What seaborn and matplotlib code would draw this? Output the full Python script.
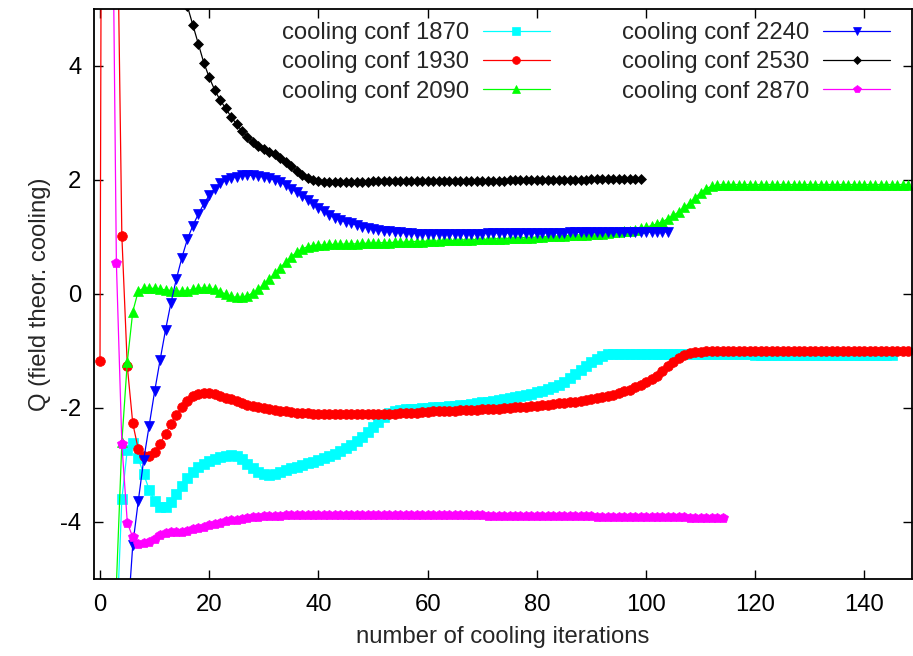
import matplotlib
matplotlib.use("Agg")
import matplotlib.pyplot as plt
import numpy as np
import seaborn as sns

# values, one value per cooling iteration
start_1870 = 3
q_1870 = [-6.0, -3.6, -2.73, -2.62, -2.88, -3.16, -3.43, -3.63, -3.74, -3.74,
          -3.65, -3.51, -3.37, -3.22, -3.12, -3.04, -2.98, -2.93, -2.89, -2.86,
          -2.84, -2.83, -2.85, -2.9, -2.98, -3.06, -3.12, -3.16, -3.17, -3.15,
          -3.12, -3.09, -3.06, -3.03, -3.0, -2.97, -2.94, -2.91, -2.88, -2.84,
          -2.8, -2.76, -2.71, -2.65, -2.58, -2.5, -2.42, -2.34, -2.25, -2.16,
          -2.09, -2.05, -2.03, -2.02, -2.01, -2.01, -2.0, -2.0, -1.99, -1.98,
          -1.98, -1.97, -1.96, -1.95, -1.94, -1.93, -1.91, -1.9, -1.89, -1.87,
          -1.86, -1.84, -1.83, -1.81, -1.79, -1.77, -1.75, -1.72, -1.7, -1.67,
          -1.64, -1.6, -1.55, -1.48, -1.41, -1.34, -1.27, -1.2, -1.14, -1.09,
          -1.06, -1.05, -1.05, -1.05, -1.06, -1.06, -1.06, -1.06, -1.06, -1.06,
          -1.06, -1.06, -1.06, -1.06, -1.06, -1.06, -1.06, -1.06, -1.06, -1.06,
          -1.06, -1.06, -1.06, -1.06, -1.06, -1.06, -1.06, -1.07, -1.07, -1.07,
          -1.07, -1.07, -1.07, -1.07, -1.07, -1.07, -1.07, -1.07, -1.07, -1.07,
          -1.07, -1.07, -1.07, -1.07, -1.07, -1.07, -1.07, -1.07, -1.07, -1.07,
          -1.07, -1.07, -1.07]

start_1930 = 0
q_1930 = [-1.17, 33.0, 25.0, 8.0, 1.02, -1.27, -2.27, -2.72, -2.85, -2.84,
          -2.78, -2.63, -2.45, -2.28, -2.12, -1.98, -1.87, -1.79, -1.75, -1.73,
          -1.74, -1.76, -1.79, -1.82, -1.85, -1.88, -1.91, -1.94, -1.96, -1.98,
          -2.0, -2.02, -2.03, -2.05, -2.06, -2.07, -2.08, -2.09, -2.09, -2.1,
          -2.1, -2.11, -2.11, -2.11, -2.11, -2.11, -2.11, -2.11, -2.11, -2.11,
          -2.11, -2.11, -2.11, -2.1, -2.1, -2.09, -2.09, -2.08, -2.08, -2.07,
          -2.07, -2.06, -2.06, -2.05, -2.05, -2.05, -2.04, -2.04, -2.03, -2.03,
          -2.02, -2.02, -2.01, -2.01, -2.0, -2.0, -1.99, -1.98, -1.98, -1.97,
          -1.96, -1.95, -1.94, -1.93, -1.92, -1.91, -1.9, -1.89, -1.88, -1.86,
          -1.85, -1.83, -1.81, -1.79, -1.77, -1.74, -1.71, -1.68, -1.64, -1.6,
          -1.55, -1.49, -1.43, -1.35, -1.26, -1.19, -1.12, -1.07, -1.04, -1.02,
          -1.01, -1.0, -1.0, -1.0, -1.0, -1.0, -1.0, -1.0, -1.0, -1.0,
          -1.0, -1.0, -1.0, -1.0, -1.0, -1.0, -1.0, -1.0, -1.0, -1.0,
          -1.0, -1.0, -1.0, -1.0, -1.0, -1.0, -1.0, -1.0, -1.0, -1.0,
          -1.0, -1.0, -1.0, -1.0, -1.0, -1.0, -1.0, -1.0, -1.0]

start_2090 = 1
q_2090 = [-20.0, -12.0, -5.1, -2.6, -1.19, -0.31, 0.05, 0.1, 0.1, 0.1,
          0.09, 0.07, 0.06, 0.05, 0.05, 0.06, 0.08, 0.1, 0.11, 0.1,
          0.08, 0.04, 0.0, -0.04, -0.06, -0.06, -0.03, 0.02, 0.08, 0.17,
          0.26, 0.36, 0.46, 0.56, 0.65, 0.73, 0.79, 0.83, 0.85, 0.86,
          0.86, 0.87, 0.87, 0.87, 0.88, 0.88, 0.88, 0.89, 0.89, 0.89,
          0.9, 0.9, 0.9, 0.91, 0.91, 0.91, 0.92, 0.92, 0.92, 0.93,
          0.93, 0.93, 0.94, 0.94, 0.94, 0.95, 0.95, 0.95, 0.96, 0.96,
          0.96, 0.97, 0.97, 0.97, 0.98, 0.98, 0.99, 0.99, 0.99, 1.0,
          1.0, 1.01, 1.01, 1.02, 1.02, 1.03, 1.03, 1.04, 1.04, 1.05,
          1.06, 1.06, 1.07, 1.08, 1.09, 1.1, 1.11, 1.13, 1.15, 1.17,
          1.2, 1.23, 1.27, 1.32, 1.38, 1.44, 1.52, 1.6, 1.69, 1.78,
          1.85, 1.89, 1.91, 1.92, 1.92, 1.92, 1.92, 1.92, 1.92, 1.92,
          1.92, 1.92, 1.92, 1.92, 1.92, 1.92, 1.92, 1.92, 1.92, 1.92,
          1.92, 1.92, 1.92, 1.92, 1.92, 1.92, 1.92, 1.92, 1.92, 1.92,
          1.92, 1.92, 1.92, 1.92, 1.92, 1.92, 1.92, 1.92]

start_2240 = 4
q_2240 = [-9.0, -5.8, -4.4, -3.64, -2.91, -2.31, -1.71, -1.16, -0.63, -0.15,
          0.27, 0.64, 0.96, 1.2, 1.4, 1.58, 1.73, 1.85, 1.94, 2.0,
          2.04, 2.06, 2.08, 2.08, 2.08, 2.07, 2.05, 2.03, 2.0, 1.96,
          1.91, 1.85, 1.79, 1.72, 1.65, 1.58, 1.51, 1.45, 1.39, 1.34,
          1.3, 1.26, 1.24, 1.21, 1.18, 1.16, 1.14, 1.12, 1.11, 1.1,
          1.09, 1.08, 1.07, 1.07, 1.06, 1.06, 1.06, 1.06, 1.06, 1.06,
          1.06, 1.06, 1.06, 1.06, 1.06, 1.06, 1.06, 1.07, 1.07, 1.07,
          1.07, 1.07, 1.07, 1.07, 1.07, 1.07, 1.07, 1.07, 1.07, 1.07,
          1.07, 1.07, 1.08, 1.08, 1.08, 1.08, 1.08, 1.08, 1.08, 1.08,
          1.08, 1.08, 1.08, 1.08, 1.09, 1.09, 1.09, 1.09, 1.09, 1.09,
          1.09]

start_2530 = 12
q_2530 = [6.6, 6.2, 5.8, 5.42, 5.05, 4.72, 4.39, 4.06, 3.8, 3.58,
          3.4, 3.26, 3.11, 2.98, 2.86, 2.76, 2.67, 2.6, 2.55, 2.5,
          2.45, 2.39, 2.32, 2.24, 2.16, 2.09, 2.03, 2.0, 1.98, 1.97,
          1.97, 1.97, 1.97, 1.97, 1.97, 1.97, 1.97, 1.97, 1.98, 1.98,
          1.98, 1.98, 1.98, 1.98, 1.98, 1.98, 1.98, 1.98, 1.99, 1.99,
          1.99, 1.99, 1.99, 1.99, 1.99, 1.99, 1.99, 1.99, 1.99, 1.99,
          1.99, 1.99, 1.99, 2.0, 2.0, 2.0, 2.0, 2.0, 2.0, 2.0,
          2.0, 2.0, 2.0, 2.0, 2.0, 2.0, 2.0, 2.0, 2.01, 2.01,
          2.01, 2.01, 2.01, 2.01, 2.01, 2.01, 2.01, 2.02]

start_2870 = 1
q_2870 = [30.0, 10.0, 0.54, -2.63, -4.01, -4.27, -4.38, -4.37, -4.35, -4.29,
          -4.23, -4.19, -4.18, -4.17, -4.17, -4.15, -4.13, -4.1, -4.08, -4.05,
          -4.03, -4.01, -3.99, -3.97, -3.96, -3.94, -3.93, -3.92, -3.91, -3.9,
          -3.9, -3.89, -3.89, -3.88, -3.88, -3.88, -3.87, -3.87, -3.87, -3.87,
          -3.87, -3.87, -3.87, -3.87, -3.87, -3.87, -3.87, -3.87, -3.87, -3.87,
          -3.87, -3.87, -3.87, -3.87, -3.87, -3.87, -3.87, -3.87, -3.87, -3.87,
          -3.88, -3.88, -3.88, -3.88, -3.88, -3.88, -3.88, -3.88, -3.88, -3.88,
          -3.89, -3.89, -3.89, -3.89, -3.89, -3.89, -3.89, -3.89, -3.89, -3.89,
          -3.9, -3.9, -3.9, -3.9, -3.9, -3.9, -3.9, -3.9, -3.9, -3.9,
          -3.91, -3.91, -3.91, -3.91, -3.91, -3.91, -3.91, -3.91, -3.91, -3.91,
          -3.92, -3.92, -3.92, -3.92, -3.92, -3.92, -3.92, -3.93, -3.93, -3.93,
          -3.93, -3.93, -3.93, -3.93]

series = [
    ("cooling conf 1870", start_1870, q_1870, "#00ffff", "s", 7.0),
    ("cooling conf 1930", start_1930, q_1930, "#ff0000", "o", 7.0),
    ("cooling conf 2090", start_2090, q_2090, "#00ff00", "^", 7.0),
    ("cooling conf 2240", start_2240, q_2240, "#0000ff", "v", 7.0),
    ("cooling conf 2530", start_2530, q_2530, "#000000", "D", 5.0),
    ("cooling conf 2870", start_2870, q_2870, "#ff00ff", "p", 7.5),
]

sns.set_style("ticks")
plt.rcParams["font.family"] = ["Liberation Sans", "DejaVu Sans"]
plt.rcParams["font.size"] = 17.2
plt.rcParams["axes.unicode_minus"] = False

fig = plt.figure(figsize=(9.13, 6.56), dpi=100)
ax = fig.add_axes([94 / 913, 1 - 579 / 656, 818 / 913, 570 / 656])

for label, start, q, color, mk, ms in series:
    it = np.arange(start, start + len(q))
    sns.lineplot(x=it, y=q, ax=ax, color=color, marker=mk, markersize=ms,
                 markeredgecolor=color, markeredgewidth=0.5, linewidth=0.9,
                 label=label, errorbar=None, sort=False)

ax.set_xlim(-1.1, 148.7)
ax.set_ylim(-5, 5)
ax.set_xticks(range(0, 141, 20))
ax.set_yticks([-4, -2, 0, 2, 4])
ax.tick_params(direction="in", length=6.5, width=1.0, top=True, right=True,
               labelsize=17.2, colors="black")
ax.tick_params(axis="x", pad=11)
ax.tick_params(axis="y", pad=9)
for sp in ax.spines.values():
    sp.set_visible(True)
    sp.set_linewidth(1.3)
    sp.set_color("black")

ax.set_xlabel("number of cooling iterations", fontsize=17.2, labelpad=7)
ax.set_ylabel("Q (field theor. cooling)", fontsize=17.2, labelpad=7)

ax.legend(loc="upper right", bbox_to_anchor=(890 / 913, 1 - 22 / 656),
          bbox_transform=fig.transFigure, ncol=2, frameon=False,
          markerfirst=False, handlelength=2.8, handletextpad=0.6,
          columnspacing=3.0, labelspacing=0.31, borderpad=0,
          borderaxespad=0, markerscale=0.8, fontsize=17.2)

fig.savefig("out.png", dpi=100)
